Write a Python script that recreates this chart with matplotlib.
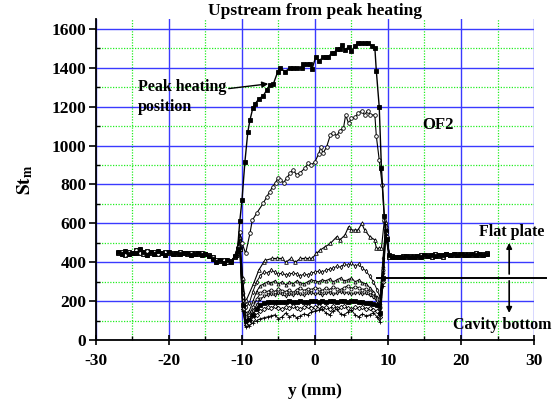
import matplotlib
matplotlib.use("Agg")
import matplotlib.pyplot as plt
from matplotlib.ticker import MultipleLocator

plt.rcParams["font.family"] = ["Liberation Serif", "DejaVu Serif"]
plt.rcParams["font.weight"] = "bold"
plt.rcParams["mathtext.fontset"] = "stix"
plt.rcParams["axes.unicode_minus"] = False

# upstream of the cavity (flat plate) -- shared by every run
left_x = [-27.0, -26.5, -26.0, -25.5, -25.0, -24.5, -24.0, -23.5, -23.0, -22.5, -22.0,
          -21.5, -21.0, -20.5, -20.0, -19.5, -19.0, -18.5, -18.0, -17.5, -17.0, -16.5,
          -16.0, -15.5, -15.0, -14.5, -14.0, -13.5, -13.0, -12.5, -12.0, -11.5, -11.0]
left_a = [448, 452, 440, 455, 446, 462, 450, 444, 458, 447, 452, 441, 449, 455, 446, 450,
          444, 452, 447, 443, 450, 446, 441, 448, 444, 438, 430, 410, 405, 412, 400, 408, 425]
left_b = [452, 444, 458, 441, 450, 447, 466, 452, 440, 455, 444, 458, 446, 440, 452, 444,
          449, 441, 450, 446, 440, 444, 448, 439, 445, 432, 418, 403, 412, 398, 410, 402, 432]

# downstream of the cavity
right_x = [10.5, 11.0, 11.5, 12.0, 12.5, 13.0, 13.5, 14.0, 14.5, 15.0, 15.5, 16.0, 16.5, 17.0,
           17.5, 18.0, 18.5, 19.0, 19.5, 20.0, 20.5, 21.0, 21.5, 22.0, 22.5, 23.0, 23.5]
right_a = [428, 425, 430, 427, 432, 428, 430, 434, 429, 436, 431, 438, 433, 440, 436, 441,
           437, 442, 438, 443, 440, 436, 442, 439, 444, 440, 445]
right_b = [432, 430, 426, 433, 429, 435, 431, 428, 437, 432, 439, 430, 441, 435, 430, 444,
           440, 436, 445, 439, 444, 441, 437, 446, 438, 443, 448]

# peak heating run (filled squares)
peak_x = [-10.6, -10.3, -10.0, -9.6, -9.2, -8.9, -8.5, -8.2, -7.7, -7.1, -6.6, -6.2, -5.7,
          -5.1, -4.8, -4.1, -3.4, -3.0, -2.4, -1.8, -1.6, -1.1, -0.7, -0.4, 0.1, 0.6, 1.1,
          1.5, 1.8, 2.3, 2.6, 3.0, 3.4, 3.7, 4.1, 4.6, 5.0, 5.5, 5.9, 6.3, 6.8, 7.3, 7.8,
          8.2, 8.4, 8.8, 9.1, 9.5, 9.8, 10.1]
peak_y = [470, 612, 720, 916, 1070, 1132, 1195, 1214, 1240, 1255, 1286, 1312, 1317, 1379,
          1399, 1380, 1399, 1399, 1399, 1399, 1420, 1420, 1420, 1394, 1455, 1435, 1455, 1455,
          1455, 1475, 1475, 1496, 1496, 1517, 1490, 1507, 1486, 1512, 1528, 1528, 1528, 1528,
          1512, 1502, 1384, 1198, 885, 640, 520, 440]

# OF2 run (open circles)
of2_x = [-10.6, -10.3, -10.0, -9.5, -8.9, -8.6, -8.0, -7.1, -6.6, -6.2, -5.8, -5.4, -5.1,
         -4.8, -4.3, -3.9, -3.4, -3.0, -2.5, -2.1, -1.4, -0.9, -0.5, 0.0, 0.5, 0.8, 1.1,
         1.6, 2.1, 2.5, 3.0, 3.4, 3.9, 4.2, 4.6, 5.0, 5.5, 5.9, 6.4, 6.8, 7.2, 7.6, 8.2,
         8.4, 8.8, 9.2, 9.5, 9.8, 10.2]
of2_y = [480, 555, 500, 446, 550, 615, 652, 703, 737, 763, 789, 809, 832, 823, 809, 832,
         858, 875, 849, 858, 883, 909, 900, 917, 957, 994, 960, 994, 1054, 1063, 1051, 1077,
         1089, 1157, 1114, 1140, 1145, 1166, 1178, 1157, 1180, 1157, 1157, 1049, 926, 797,
         620, 530, 430]

# third run (open triangles)
tri_x = [-10.6, -10.3, -9.9, -9.6, -9.4, -8.4, -7.7, -7.0, -6.8, -5.9, -5.2, -4.5, -4.0,
         -3.3, -2.7, -2.0, -1.4, -0.8, -0.4, 0.2, 0.7, 1.4, 2.1, 3.0, 3.4, 4.1, 4.6, 5.0,
         5.5, 5.9, 6.4, 6.8, 7.5, 8.2, 8.4, 8.8, 9.1, 9.5, 9.8, 10.2]
tri_y = [480, 530, 320, 200, 206, 292, 360, 403, 410, 420, 420, 420, 400, 420, 400, 420,
         420, 420, 420, 446, 463, 480, 497, 532, 515, 540, 583, 566, 566, 566, 600, 566,
         532, 515, 472, 472, 472, 617, 520, 430]

# remaining runs sit on the cavity bottom
cav_x = [-10.6, -10.3, -9.9, -9.5, -9.0, -8.5, -8.0, -7.5, -7.0, -6.5, -6.0, -5.5, -5.0,
         -4.5, -4.0, -3.5, -3.0, -2.5, -2.0, -1.5, -1.0, -0.5, 0.0, 0.5, 1.0, 1.5, 2.0,
         2.5, 3.0, 3.5, 4.0, 4.5, 5.0, 5.5, 6.0, 6.5, 7.0, 7.5, 8.0, 8.5, 8.9, 9.3, 9.7, 10.2]
cav_runs = [
    [470, 510, 300, 170, 190, 250, 300, 330, 350, 345, 360, 350, 340, 345, 335, 340, 345,
     340, 330, 340, 335, 345, 350, 355, 350, 360, 365, 370, 380, 375, 390, 385, 395, 380,
     390, 370, 355, 330, 300, 260, 220, 420, 600, 430],
    [460, 500, 250, 140, 150, 200, 250, 280, 290, 300, 295, 305, 290, 300, 285, 300, 290,
     305, 295, 290, 300, 310, 305, 300, 310, 305, 315, 300, 310, 320, 305, 310, 320, 300,
     310, 295, 290, 270, 250, 220, 190, 380, 590, 430],
    [455, 490, 220, 120, 130, 170, 210, 240, 255, 250, 260, 250, 265, 255, 250, 260, 245,
     260, 270, 255, 265, 260, 270, 265, 255, 270, 260, 275, 265, 260, 270, 280, 265, 275,
     270, 260, 265, 250, 240, 210, 170, 360, 580, 430],
    [450, 480, 200, 110, 115, 150, 180, 210, 225, 230, 235, 230, 240, 235, 225, 235, 230,
     240, 235, 230, 240, 245, 235, 240, 230, 240, 245, 235, 240, 250, 240, 245, 235, 240,
     245, 235, 240, 230, 220, 200, 160, 340, 570, 430],
    [445, 470, 180, 100, 105, 130, 160, 180, 190, 195, 195, 195, 195, 195, 195, 200, 195,
     195, 200, 195, 195, 200, 200, 195, 200, 195, 200, 200, 195, 200, 200, 195, 200, 200,
     195, 195, 190, 190, 185, 180, 140, 320, 560, 430],
    [440, 465, 160, 80, 90, 110, 130, 150, 160, 170, 165, 175, 165, 160, 170, 165, 175, 165,
     160, 170, 175, 165, 170, 175, 165, 170, 160, 175, 165, 170, 175, 165, 160, 170, 165,
     170, 160, 165, 155, 150, 120, 300, 550, 430],
    [440, 460, 150, 70, 75, 90, 100, 110, 115, 120, 125, 130, 110, 120, 140, 120, 130, 115,
     125, 135, 130, 145, 150, 155, 160, 140, 130, 150, 160, 135, 130, 145, 155, 130, 120,
     135, 125, 130, 140, 120, 95, 280, 540, 430],
]
cav_markers = ["d", "^", "o", "v", "s", "D", "+"]

flat_plate_level = 320

fig = plt.figure(figsize=(5.58, 4.05), dpi=100)
ax = fig.add_axes([0.172, 0.160, 0.785, 0.793])


def draw_run(x_mid, y_mid, base_l, base_r, marker, filled, ms=2.6, lw=0.8):
    xs = left_x + x_mid + right_x
    ys = base_l + y_mid + base_r
    face = "black" if filled else "white"
    ax.plot(xs, ys, color="black", lw=lw, marker=marker, ms=ms,
            mfc=face, mec="black", mew=0.6, zorder=3)


for i, (run, mk) in enumerate(zip(cav_runs, cav_markers)):
    bl = left_a if i % 2 == 0 else left_b
    br = right_b if i % 2 == 0 else right_a
    draw_run(cav_x, run, bl, br, mk, mk in ("s", "+"), ms=2.2, lw=0.7)
draw_run(tri_x, tri_y, left_b, right_a, "^", False)
draw_run(of2_x, of2_y, left_a, right_b, "o", False)
draw_run(peak_x, peak_y, left_b, right_a, "s", True, lw=1.0)

# flat plate level
ax.plot([8.5, 31.6], [flat_plate_level, flat_plate_level], color="black", lw=1.4,
        clip_on=False, zorder=4)

ax.set_xlim(-30, 30)
ax.set_ylim(0, 1650)
ax.xaxis.set_major_locator(MultipleLocator(10))
ax.xaxis.set_minor_locator(MultipleLocator(5))
ax.yaxis.set_major_locator(MultipleLocator(200))
ax.yaxis.set_minor_locator(MultipleLocator(100))
ax.set_yticks(range(0, 1601, 200))

ax.set_axisbelow(True)
ax.grid(which="major", color="#3a3aff", lw=1.0, ls="-")
ax.grid(which="minor", color="#22ee22", lw=0.9, ls=(0, (1, 1.2)))

for side in ("top", "right"):
    ax.spines[side].set_visible(False)
for side in ("left", "bottom"):
    ax.spines[side].set_linewidth(1.3)

ax.tick_params(axis="x", which="major", direction="inout", length=7, width=1.2,
               labelsize=12.5, pad=6)
ax.tick_params(axis="x", which="minor", direction="in", length=3, width=1.0)
ax.tick_params(axis="y", which="major", direction="out", length=5, width=1.2,
               labelsize=12.5, pad=2)
ax.tick_params(axis="y", which="minor", direction="in", length=3, width=1.0)
for lab in ax.get_xticklabels() + ax.get_yticklabels():
    lab.set_fontweight("bold")

ax.set_xlabel("y (mm)", fontsize=12.5, fontweight="bold", labelpad=10)
ax.set_ylabel(r"$\mathbf{St_m}$", fontsize=14, labelpad=12)
ax.set_title("Upstream from peak heating", fontsize=12.5, fontweight="bold", pad=1)

ax.annotate("Peak heating\nposition", xy=(-6.4, 1317), xytext=(-24.3, 1250),
            fontsize=11.5, fontweight="bold", ha="left", va="center",
            linespacing=1.35,
            arrowprops=dict(arrowstyle="-|>", color="black", lw=1.0,
                            mutation_scale=9, shrinkA=0, shrinkB=0,
                            relpos=(1.0, 0.72)))
ax.text(16.8, 1106, "OF2", fontsize=12, fontweight="bold", ha="center", va="center")
ax.text(26.9, 556, "Flat plate", fontsize=11.5, fontweight="bold", ha="center",
        va="center")
ax.text(25.7, 77, "Cavity bottom", fontsize=11.5, fontweight="bold", ha="center",
        va="center", clip_on=False)
ax.annotate("", xy=(26.6, 500), xytext=(26.6, 340),
            arrowprops=dict(arrowstyle="-|>", color="black", lw=1.2,
                            mutation_scale=8, shrinkA=0, shrinkB=0))
ax.annotate("", xy=(26.6, 140), xytext=(26.6, 305),
            arrowprops=dict(arrowstyle="-|>", color="black", lw=1.2,
                            mutation_scale=8, shrinkA=0, shrinkB=0))

fig.savefig("out.png", dpi=100)
